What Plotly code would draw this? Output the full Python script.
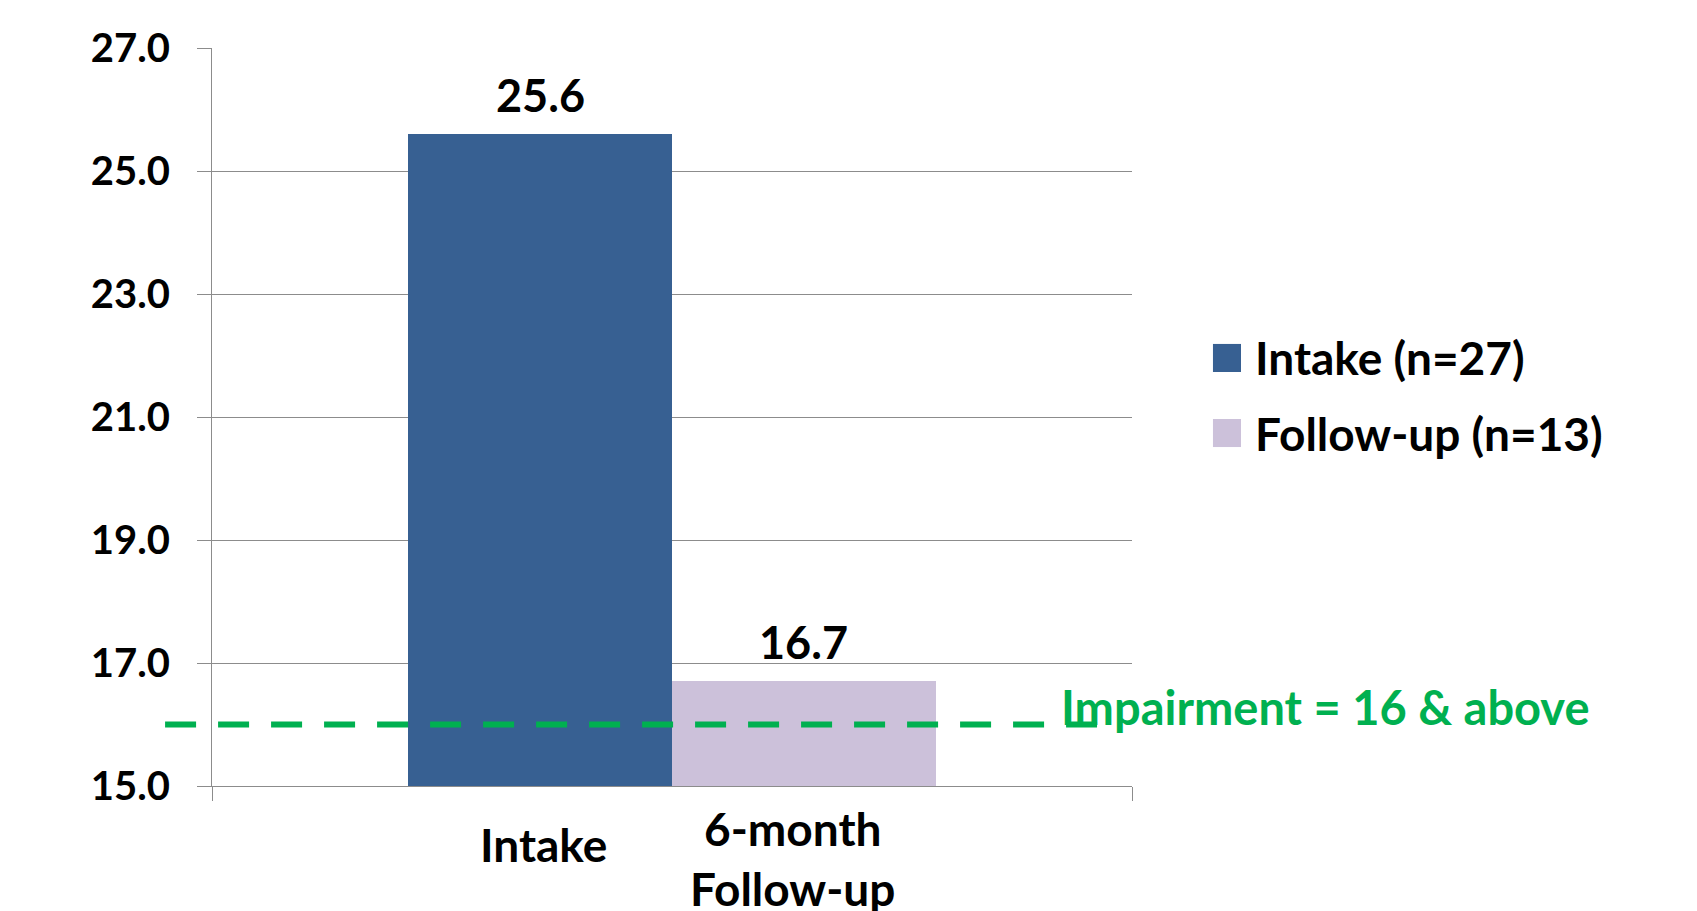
import plotly.graph_objects as go

# ---- data ----
series_names = ["Intake (n=27)", "Follow-up (n=13)"]
category_labels = ["Intake", "6-month<br>Follow-up"]
scores = [25.6, 16.7]
bar_colors = ["#376092", "#CCC1DA"]
impairment_cutoff = 16
impairment_label = "Impairment = 16 & above"
y_ticks = [15, 17, 19, 21, 23, 25, 27]

# ---- styling ----
FONT = "Lato"
GRID = "#8C8C8C"
GREEN = "#00B050"
BAR_W = 0.2865                      # each bar's width within the single group
centers = [-BAR_W / 2, BAR_W / 2]
label_xshift = [3, -11]
label_yshift = [-58, -72]

fig = go.Figure()
for name, val, col, cx in zip(series_names, scores, bar_colors, centers):
    fig.add_trace(go.Bar(
        x=[cx], y=[val], width=BAR_W, name=name,
        marker=dict(color=col, line=dict(width=0)),
        showlegend=False, hoverinfo="skip",
    ))

annotations = []
# value labels above bars
for val, cx in zip(scores, centers):
    annotations.append(dict(
        x=cx, y=val, xref="x", yref="y", text=f"{val:.1f}",
        showarrow=False, yanchor="bottom", yshift=10,
        font=dict(family=FONT, size=45, color="black", weight="bold"),
    ))
# labels under each bar
for lab, cx, xs, ys in zip(category_labels, centers, label_xshift, label_yshift):
    annotations.append(dict(
        x=cx, y=0, xref="x", yref="paper", text=lab,
        showarrow=False, xanchor="center", yanchor="middle",
        xshift=xs, yshift=ys,
        font=dict(family=FONT, size=46, color="black", weight="bold"),
    ))
# impairment threshold label
annotations.append(dict(
    x=0.921, y=0.1067, xref="paper", yref="paper", text=impairment_label,
    showarrow=False, xanchor="left", yanchor="middle",
    font=dict(family=FONT, size=47, color=GREEN, weight="bold"),
))

shapes = [dict(
    type="line", xref="paper", yref="y",
    x0=-0.051, x1=0.962, y0=impairment_cutoff, y1=impairment_cutoff,
    line=dict(color=GREEN, width=6, dash="31px,22px"), layer="above",
)]

# legend drawn by hand so the swatches can be large
legend_rows = [(0.5610, 0.5990), (0.4593, 0.4973)]
for name, col, (y0, y1) in zip(series_names, bar_colors, legend_rows):
    shapes.append(dict(
        type="rect", xref="paper", yref="paper",
        x0=1.0880, x1=1.1185, y0=y0, y1=y1,
        fillcolor=col, line=dict(width=0),
    ))
    annotations.append(dict(
        x=1.1315, y=(y0 + y1) / 2, xref="paper", yref="paper", text=name,
        showarrow=False, xanchor="left", yanchor="middle",
        font=dict(family=FONT, size=46, color="black", weight="bold"),
    ))

fig.update_layout(
    width=1697, height=911, autosize=False,
    margin=dict(l=212, r=565, t=48, b=125, pad=0),
    paper_bgcolor="white", plot_bgcolor="white",
    barmode="overlay", bargap=0,
    showlegend=False,
    annotations=annotations, shapes=shapes,
    font=dict(family=FONT, color="black"),
)
fig.update_yaxes(
    range=[15, 27], tickvals=y_ticks, ticktext=[f"{v:.1f}" for v in y_ticks],
    showgrid=True, gridcolor=GRID, gridwidth=1.3,
    showline=True, linecolor=GRID, linewidth=1.3,
    ticks="outside", ticklen=14, tickcolor=GRID, tickwidth=1.3,
    ticklabelstandoff=19, zeroline=False,
    tickfont=dict(family=FONT, size=40, color="black", weight="bold"),
)
fig.update_xaxes(
    range=[-0.5, 0.5], tickvals=[-0.5, 0.5], showticklabels=False,
    showgrid=False, zeroline=False,
    showline=True, linecolor=GRID, linewidth=1.3,
    ticks="outside", ticklen=14, tickcolor=GRID, tickwidth=1.3,
)

fig.write_html("out.html")
